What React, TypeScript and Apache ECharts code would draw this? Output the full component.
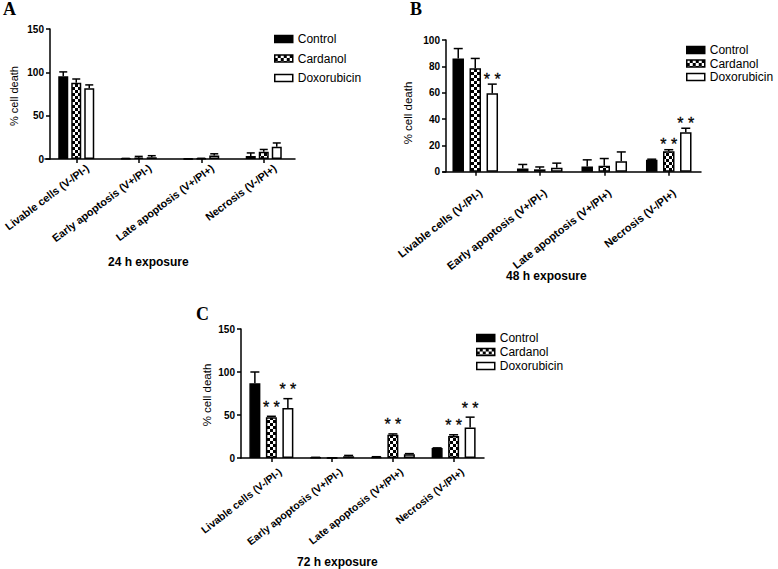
import React, { useEffect, useRef } from "react";
import * as echarts from "echarts";

const FONT = '"Liberation Sans", Arial, sans-serif';

const categories = [
  "Livable cells (V-/PI-)",
  "Early apoptosis (V+/PI-)",
  "Late apoptosis (V+/PI+)",
  "Necrosis (V-/PI+)",
];
const seriesNames = ["Control", "Cardanol", "Doxorubicin"];
const panelLetters = ["A", "B", "C"];
const exposureLabels = ["24 h exposure", "48 h exposure", "72 h exposure"];
const yAxisName = "% cell death";

// 24 h
const control24 = [95.5, 0.4, 0.2, 3.5];
const control24Err = [5, 0.3, 0.1, 3.5];
const cardanol24 = [88, 1.5, 0.5, 8.5];
const cardanol24Err = [4.3, 1.5, 0.3, 2.5];
const dox24 = [81.5, 2, 4, 14];
const dox24Err = [4, 1.8, 2, 4.5];
const sigControl24 = [0, 0, 0, 0];
const sigCardanol24 = [0, 0, 0, 0];
const sigDox24 = [0, 0, 0, 0];

// 48 h
const control48 = [86, 2.5, 4, 9];
const control48Err = [7.5, 3, 5, 0.5];
const cardanol48 = [78.5, 1.8, 4.5, 15.5];
const cardanol48Err = [7.5, 1.8, 5.5, 1.2];
const dox48 = [59.5, 3, 8, 30];
const dox48Err = [7, 3.5, 7, 3];
const sigControl48 = [0, 0, 0, 0];
const sigCardanol48 = [0, 0, 0, 1];
const sigDox48 = [1, 0, 0, 1];

// 72 h
const control72 = [87, 0.5, 1, 11.5];
const control72Err = [13, 0.3, 0.5, 0.3];
const cardanol72 = [47.5, 0.2, 27, 25.5];
const cardanol72Err = [1, 0.1, 1, 1.5];
const dox72 = [58, 2, 4.3, 35.5];
const dox72Err = [11, 1, 0.8, 12];
const sigControl72 = [0, 0, 0, 0];
const sigCardanol72 = [1, 0, 1, 1];
const sigDox72 = [1, 0, 0, 1];

function makeChecker() {
  const c = document.createElement("canvas");
  c.width = 6;
  c.height = 6;
  const ctx = c.getContext("2d")!;
  ctx.fillStyle = "#000";
  ctx.fillRect(0, 0, 6, 6);
  ctx.fillStyle = "#fff";
  ctx.fillRect(0, 0, 3, 3);
  ctx.fillRect(3, 3, 3, 3);
  return c.toDataURL();
}

export default function App() {
  const ref = useRef<HTMLDivElement>(null);

  useEffect(() => {
    if (!ref.current) return;
    const chart = echarts.init(ref.current, null, { renderer: "svg" });
    const checker = {
      image: makeChecker(),
      repeat: "repeat",
      imageWidth: 6,
      imageHeight: 6,
    };
    const fills: any[] = ["#000", checker, "#fff"];

    const panels = [
      {
        values: [control24, cardanol24, dox24],
        errs: [control24Err, cardanol24Err, dox24Err],
        sig: [sigControl24, sigCardanol24, sigDox24],
        grid: { left: 45, top: 29, width: 250, height: 130 },
        yOffset: -5, yMax: 150, yInterval: 50,
        barWidth: 10, barGapPct: 30, capHalf: 4,
        rotate: 37, labelSize: 10.8, labelShift: 14, labelMargin: 16, starGap: 5,
        yName: { x: 14, y: 96, size: 11 },
        letter: { left: 3, top: 0 },
        exposure: { left: 108, top: 256 },
        legend: { left: 274, top: 33, itemGap: 7.5 },
      },
      {
        values: [control48, cardanol48, dox48],
        errs: [control48Err, cardanol48Err, dox48Err],
        sig: [sigControl48, sigCardanol48, sigDox48],
        grid: { left: 443, top: 40, width: 258, height: 131.7 },
        yOffset: -3, yMax: 100, yInterval: 20,
        barWidth: 11.5, barGapPct: 48, capHalf: 4.5,
        rotate: 38, labelSize: 11, labelShift: 7, labelMargin: 24, starGap: 5,
        yName: { x: 407.5, y: 113, size: 11.5 },
        letter: { left: 410, top: 0 },
        exposure: { left: 506, top: 270 },
        legend: { left: 686, top: 44, itemGap: 1.5 },
      },
      {
        values: [control72, cardanol72, dox72],
        errs: [control72Err, cardanol72Err, dox72Err],
        sig: [sigControl72, sigCardanol72, sigDox72],
        grid: { left: 241, top: 329, width: 243, height: 129 },
        yOffset: 0, yMax: 150, yInterval: 50,
        barWidth: 11, barGapPct: 50, capHalf: 4.5,
        rotate: 38, labelSize: 10.5, labelShift: 11, labelMargin: 19, starGap: 9,
        yName: { x: 207, y: 395, size: 11.5 },
        letter: { left: 196, top: 305 },
        exposure: { left: 297, top: 556 },
        legend: { left: 476, top: 332, itemGap: 2 },
      },
    ];

    const grids: any[] = [];
    const xAxes: any[] = [];
    const yAxes: any[] = [];
    const series: any[] = [];
    const legends: any[] = [];
    const titles: any[] = [];
    const graphics: any[] = [];

    panels.forEach((p, pi) => {
      grids.push({ ...p.grid, containLabel: false });
      xAxes.push({
        type: "category",
        gridIndex: pi,
        data: categories,
        axisLine: { show: true, lineStyle: { color: "#000", width: 1.5 } },
        axisTick: { show: true, alignWithLabel: true, length: 4, lineStyle: { color: "#000", width: 1.5 } },
        axisLabel: {
          interval: 0,
          rotate: p.rotate,
          fontSize: p.labelSize,
          fontWeight: "bold",
          fontFamily: FONT,
          color: "#000",
          margin: p.labelMargin,
          padding: [0, -p.labelShift, 0, 0],
        },
        splitLine: { show: false },
      });
      yAxes.push({
        type: "value",
        gridIndex: pi,
        min: 0,
        max: p.yMax,
        interval: p.yInterval,
        offset: p.yOffset,
        axisLine: { show: true, lineStyle: { color: "#000", width: 1.5 } },
        axisTick: { show: true, length: 4, lineStyle: { color: "#000", width: 1.5 } },
        axisLabel: { fontSize: 10, fontWeight: "bold", fontFamily: FONT, color: "#000", margin: 6 },
        splitLine: { show: false },
      });
      graphics.push({
        type: "text",
        x: p.yName.x,
        y: p.yName.y,
        rotation: Math.PI / 2,
        style: {
          text: yAxisName,
          align: "center",
          verticalAlign: "middle",
          fontSize: p.yName.size,
          fontFamily: FONT,
          fill: "#000",
        },
      });
      const spacing = p.barWidth * (1 + p.barGapPct / 100);
      seriesNames.forEach((name, gi) => {
        series.push({
          type: "bar",
          name,
          xAxisIndex: pi,
          yAxisIndex: pi,
          data: p.values[gi],
          barWidth: p.barWidth,
          barGap: p.barGapPct + "%",
          itemStyle: { color: fills[gi], borderColor: "#000", borderWidth: 1.5 },
          z: 2,
        });
      });
      seriesNames.forEach((name, gi) => {
        const offset = (gi - 1) * spacing;
        series.push({
          type: "custom",
          name: name + " error",
          xAxisIndex: pi,
          yAxisIndex: pi,
          z: 5,
          silent: true,
          itemStyle: { color: "#000" },
          data: p.values[gi].map((v, i) => [i, v, p.errs[gi][i], p.sig[gi][i]]),
          renderItem: (params: any, api: any) => {
            const cat = api.value(0);
            const v = api.value(1);
            const e = api.value(2);
            const s = api.value(3);
            const base = api.coord([cat, v]);
            const top = api.coord([cat, v + e]);
            const x = base[0] + offset;
            const children: any[] = [
              {
                type: "line",
                shape: { x1: x, y1: base[1], x2: x, y2: top[1] },
                style: { stroke: "#000", lineWidth: 1.5 },
              },
              {
                type: "line",
                shape: { x1: x - p.capHalf, y1: top[1], x2: x + p.capHalf, y2: top[1] },
                style: { stroke: "#000", lineWidth: 1.5 },
              },
            ];
            if (s) {
              children.push({
                type: "text",
                style: {
                  text: "* *",
                  x,
                  y: top[1] - p.starGap,
                  align: "center",
                  verticalAlign: "middle",
                  fontSize: 16,
                  fontFamily: FONT,
                  fill: "#000",
                  stroke: "#000",
                  lineWidth: 0.3,
                },
              });
            }
            return { type: "group", children };
          },
        });
      });
      legends.push({
        orient: "vertical",
        left: p.legend.left,
        top: p.legend.top,
        itemGap: p.legend.itemGap,
        itemWidth: 18,
        itemHeight: 7,
        padding: 0,
        icon: "rect",
        selectedMode: false,
        data: seriesNames,
        itemStyle: { borderColor: "#000", borderWidth: 1.5 },
        textStyle: { fontSize: 12, fontFamily: FONT, color: "#000" },
      });
      titles.push({
        text: panelLetters[pi],
        left: p.letter.left,
        top: p.letter.top,
        padding: 0,
        textStyle: { fontFamily: '"Liberation Serif", "Times New Roman", serif', fontWeight: "bold", fontSize: 18, color: "#000" },
      });
      titles.push({
        text: exposureLabels[pi],
        left: p.exposure.left,
        top: p.exposure.top,
        padding: 0,
        textStyle: { fontFamily: FONT, fontWeight: "bold", fontSize: 12, color: "#000" },
      });
    });

    chart.setOption({
      animation: false,
      backgroundColor: "#fff",
      title: titles,
      legend: legends,
      grid: grids,
      xAxis: xAxes,
      yAxis: yAxes,
      series,
      graphic: graphics,
    });
    return () => chart.dispose();
  }, []);

  return (
    <div
      ref={ref}
      style={{ position: "fixed", left: 0, top: 0, width: 778, height: 569, background: "#fff" }}
    />
  );
}
